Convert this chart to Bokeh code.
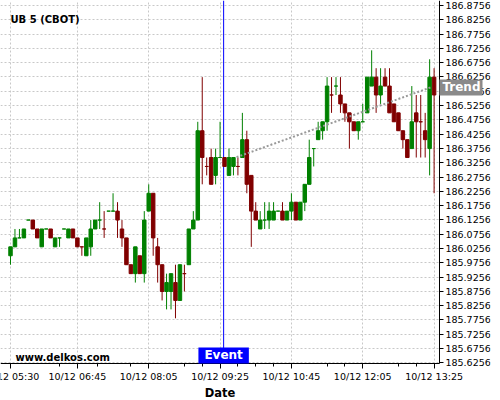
from bokeh.plotting import figure
from bokeh.models import (Range1d, FixedTicker, Span, Label, ColumnDataSource,
                          PrintfTickFormatter, BoxAnnotation)
from bokeh.embed import file_html
from bokeh.resources import INLINE

# UB 5 (CBOT), 5-minute bars starting 10/12 05:30 (bar index 0)
# prices are quoted in 32nds above the 186-00 handle
open_32 = [0, 1, 2, 2, 4, 4, 3, 1, 3, 3,
           1, 2, 3, 2, 3, 2, 1, 0, 1, 3,
           4, 3, 5, 5, 5, 3, 2, -1, -2, 0,
           -2, 5, 7, 1, -1, -4, -4, -3, -5, -2,
           -1, 3, 4, 14, 10, 11, 9, 11, 11, 9,
           10, 10, 11, 13, 9, 5, 3, 4, 4, 4,
           5, 5, 4, 5, 6, 4, 6, 8, 12, 13,
           14, 15, 18, 19, 18, 17, 16, 15, 14, 15,
           16, 19, 20, 18, 20, 19, 17, 16, 14, 13,
           12, 16, 15, 14, 12, 20]
high_32 = [1, 3, 3, 3, 4, 4, 3, 3, 3, 3,
           2, 2, 3, 3, 3, 2, 1, 2, 4, 4,
           6, 5, 5, 7, 6, 4, 2, -1, 1, 0,
           5, 8, 7, 2, -1, -2, -2, -1, -1, -1,
           3, 5, 15, 20, 11, 12, 12, 15, 11, 12,
           11, 11, 16, 14, 9, 6, 5, 6, 6, 6,
           5, 6, 5, 7, 6, 6, 8, 13, 12, 15,
           15, 20, 20, 20, 20, 17, 16, 15, 15, 17,
           20, 23, 21, 21, 21, 21, 17, 16, 14, 13,
           19, 18, 18, 16, 22, 21]
low_32 = [-1, 1, 2, 2, 4, 3, 2, 1, 3, 2,
          1, 1, 3, 2, 2, 1, 0, 0, 0, 3,
          3, 2, 5, 5, 2, 1, -1, -2, -3, -2,
          -3, 5, 0, -3, -5, -6, -6, -7, -5, -4,
          -1, 3, 4, 8, 9, 8, 8, 11, 10, 9,
          9, 9, 11, 7, 1, 4, 3, 3, 3, 4,
          5, 4, 4, 4, 4, 4, 5, 8, 10, 13,
          13, 14, 16, 18, 16, 15, 12, 14, 13, 15,
          16, 19, 16, 17, 19, 16, 15, 14, 12, 11,
          12, 11, 11, 11, 9, 7]
close_32 = [1, 2, 2, 3, 4, 3, 2, 3, 3, 2,
            2, 2, 3, 3, 2, 1, 1, 2, 3, 4,
            4, 3, 5, 5, 4, 2, -1, -2, 1, -2,
            4, 7, 2, -1, -4, -3, -2, -5, -1, -2,
            3, 4, 14, 11, 10, 8, 11, 11, 10, 11,
            11, 10, 13, 8, 5, 4, 4, 4, 5, 5,
            5, 4, 5, 6, 4, 6, 8, 11, 12, 14,
            15, 19, 18, 19, 17, 16, 15, 14, 15, 15,
            20, 20, 18, 19, 19, 16, 15, 14, 13, 11,
            15, 15, 15, 13, 20, 18]
doji_down = [16, 21, 39, 44, 51, 72, 92]   # unchanged bars drawn in the "down" colour
HANDLE = 186.0

x_tick_pos = [0, 15, 31, 47, 63, 79, 95]
x_tick_labels = ["10/12 05:30", "10/12 06:45", "10/12 08:05", "10/12 09:25",
                 "10/12 10:45", "10/12 12:05", "10/12 13:25"]
x_minor_pos = [11, 19.5, 27, 39, 43, 51, 55, 59, 71, 75, 87, 91]
y_ticks = [185.6256, 185.6756, 185.7256, 185.7756, 185.8256, 185.8756, 185.9256,
           185.9756, 186.0256, 186.0756, 186.1256, 186.1756, 186.2256, 186.2756,
           186.3256, 186.3756, 186.4256, 186.4756, 186.5256, 186.5756, 186.6256,
           186.6756, 186.7256, 186.7756, 186.8256, 186.8756]

event_idx = 47.8
trend_idx = [50.7, 94.2]
trend_price = [186.345, 186.589]

# axes positions (in bar index / price units)
x_view_start, x_axis_end, x_view_end = -2.244, 96.2, 107.65
y_axis_start, y_view_start, y_view_end = 185.6232, 185.4937, 186.8931

UP = "#008000"
DOWN = "#800000"
FONT = "DejaVu Sans"
TICK_FONT_SIZE = "9.5px"

n = len(open_32)
o = [HANDLE + v / 32 for v in open_32]
h = [HANDLE + v / 32 for v in high_32]
l = [HANDLE + v / 32 for v in low_32]
c = [HANDLE + v / 32 for v in close_32]
colors = []
for i in range(n):
    if c[i] > o[i]:
        colors.append(UP)
    elif c[i] < o[i]:
        colors.append(DOWN)
    else:
        colors.append(DOWN if i in doji_down else UP)

src = ColumnDataSource(dict(x=list(range(n)), o=o, h=h, l=l, c=c,
                            top=[max(a, b) for a, b in zip(o, c)],
                            bottom=[min(a, b) for a, b in zip(o, c)],
                            color=colors))

p = figure(width=500, height=400, output_backend="svg", toolbar_location=None,
           x_range=Range1d(x_view_start, x_view_end),
           y_range=Range1d(y_view_start, y_view_end),
           y_axis_location="right", min_border_left=0, min_border_right=10,
           min_border_top=0, min_border_bottom=0)
p.outline_line_color = None
p.background_fill_color = "white"
p.border_fill_color = "white"

# grids
p.xgrid.ticker = FixedTicker(ticks=x_tick_pos)
p.ygrid.ticker = FixedTicker(ticks=y_ticks)
for g in (p.xgrid[0], p.ygrid[0]):
    g.grid_line_color = "#c8c8c8"
    g.grid_line_dash = "2 2"
    g.grid_line_width = 1

# event line (drawn under the masks so it stops at the time axis)
p.add_layout(Span(location=event_idx, dimension="height", line_color="#0000ff",
                  line_width=1, level="underlay"))

# keep the label strips outside the price/time axes free of grid lines
p.add_layout(BoxAnnotation(left=x_axis_end, fill_color="white", fill_alpha=1.0,
                           line_alpha=0, level="underlay"))
p.add_layout(BoxAnnotation(top=y_axis_start, fill_color="white", fill_alpha=1.0,
                           line_alpha=0, level="underlay"))

# x axis (time)
xa = p.xaxis[0]
xa.fixed_location = y_axis_start
xa.bounds = (x_view_start, x_axis_end)
xa.ticker = FixedTicker(ticks=x_tick_pos, minor_ticks=x_minor_pos)
overrides = {t: s for t, s in zip(x_tick_pos, x_tick_labels)}
overrides[x_tick_pos[0]] = ""   # first label is placed below so it runs off the left edge
xa.major_label_overrides = overrides
xa.major_label_text_font = FONT
xa.major_label_text_font_size = TICK_FONT_SIZE
xa.major_label_text_color = "black"
xa.major_tick_out = 5
xa.major_tick_in = 0
xa.minor_tick_out = 3
xa.minor_tick_in = 0
xa.major_label_standoff = 3
xa.axis_line_color = "black"
xa.axis_label = "Date"
xa.axis_label_text_font = FONT
xa.axis_label_text_font_style = "bold"
xa.axis_label_text_font_size = "11.5px"
xa.axis_label_text_color = "black"
xa.axis_label_standoff = 0

p.add_layout(Label(x=x_tick_pos[0], y=y_axis_start, y_offset=-8, text=x_tick_labels[0],
                   text_align="center", text_baseline="top", text_color="black",
                   text_font=FONT, text_font_size=TICK_FONT_SIZE))

# y axis (price, at the right end of the time span)
ya = p.yaxis[0]
ya.fixed_location = x_axis_end
ya.bounds = (y_axis_start, y_view_end)
ya.ticker = FixedTicker(ticks=y_ticks)
ya.formatter = PrintfTickFormatter(format="%.4f")
ya.major_label_text_font = FONT
ya.major_label_text_font_size = TICK_FONT_SIZE
ya.major_label_text_color = "black"
ya.major_tick_out = 4
ya.major_tick_in = 0
ya.minor_tick_line_color = None
ya.major_label_standoff = 2
ya.axis_line_color = "black"

# candles
p.segment(x0="x", y0="l", x1="x", y1="h", line_color="color", line_width=1, source=src)
p.vbar(x="x", top="top", bottom="bottom", width=0.78, fill_color="color",
       line_color="color", line_width=1, source=src)

# trend line
p.line(trend_idx, trend_price, line_color="#999999", line_width=2, line_dash="2 2")

p.add_layout(Label(x=event_idx, y=y_axis_start, text="Event", text_align="center",
                   text_baseline="bottom", text_color="white", text_font=FONT,
                   text_font_style="bold", text_font_size="12px",
                   background_fill_color="#0000ff",
                   padding=dict(left=6, right=6, top=1, bottom=1)))

p.add_layout(Label(x=x_axis_end, y=trend_price[1], text="Trend", text_align="left",
                   text_baseline="middle", text_color="white", text_font=FONT,
                   text_font_style="bold", text_font_size="12px",
                   background_fill_color="#8a8a8a",
                   padding=dict(left=3, right=2, top=1, bottom=1)))

p.add_layout(Label(x=10, y=381, x_units="screen", y_units="screen", text="UB 5 (CBOT)",
                   text_align="left", text_baseline="alphabetic", text_color="black",
                   text_font=FONT, text_font_style="bold", text_font_size="10px"))

p.add_layout(Label(x=15, y=43, x_units="screen", y_units="screen", text="www.delkos.com",
                   text_align="left", text_baseline="alphabetic", text_color="black",
                   text_font=FONT, text_font_style="bold", text_font_size="10px"))

open("out.html", "w").write(file_html(p, INLINE))
